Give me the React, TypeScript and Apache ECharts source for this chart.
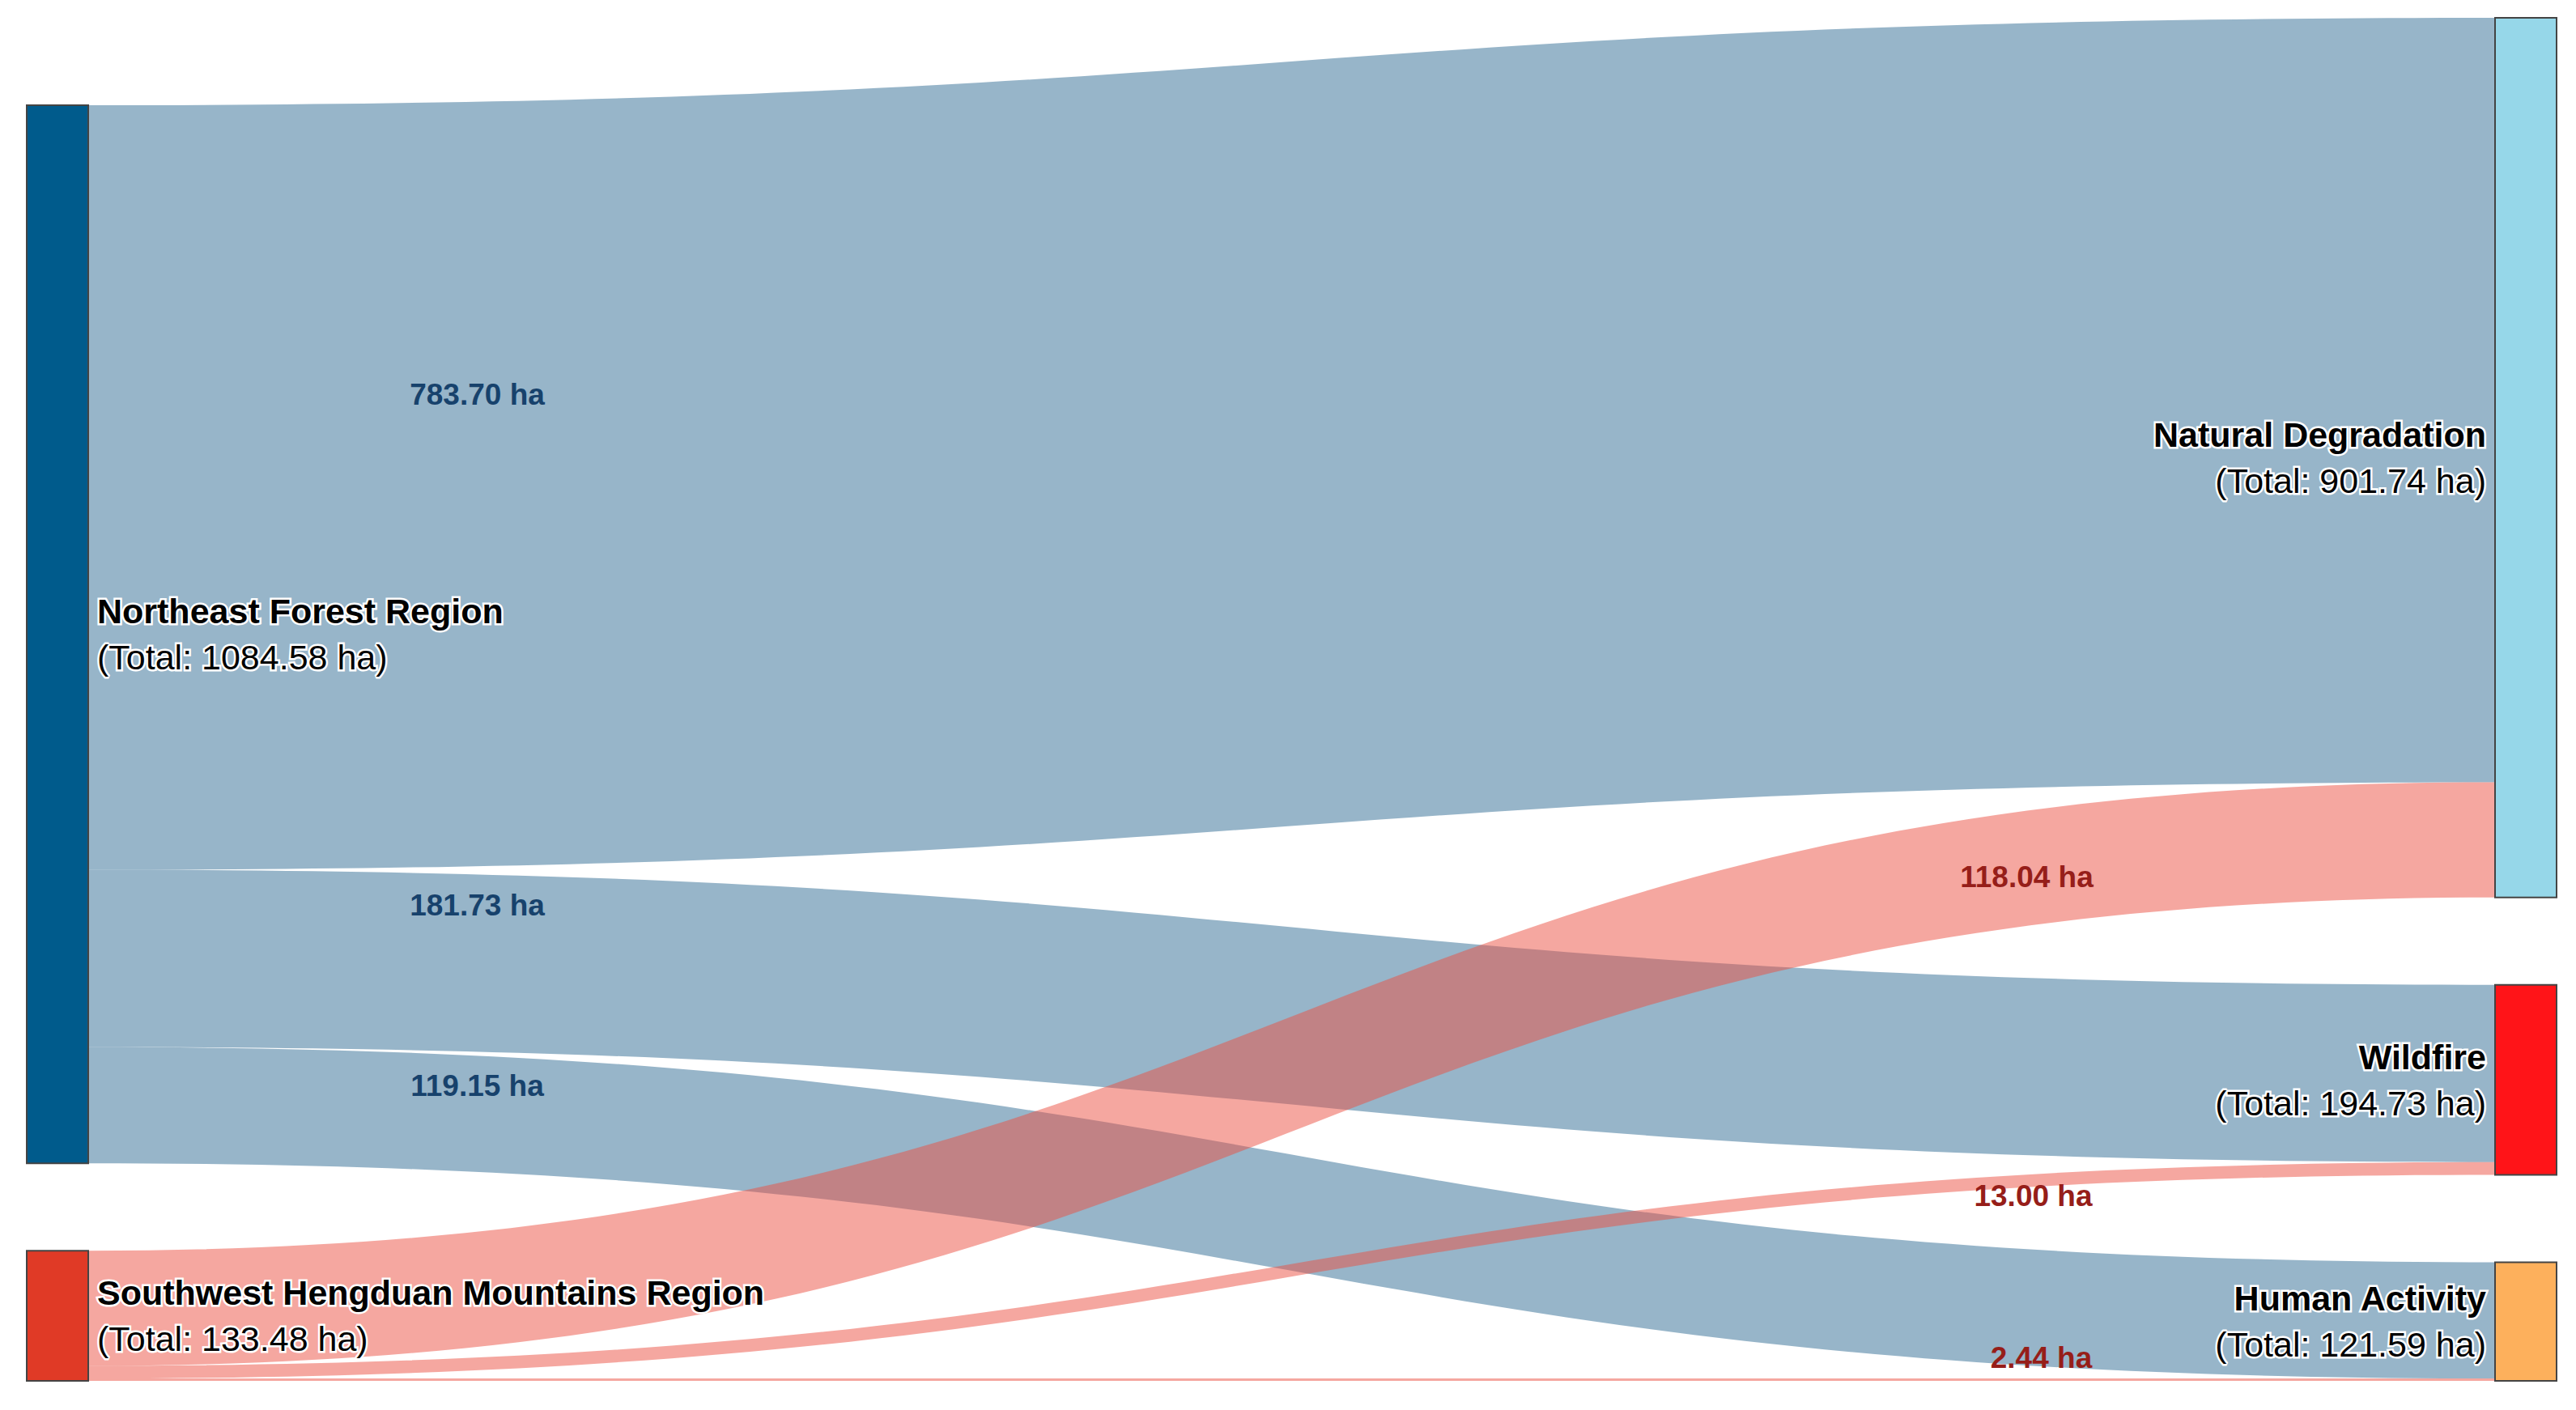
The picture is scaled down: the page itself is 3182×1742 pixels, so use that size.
import React, { useEffect, useRef } from "react";
import * as echarts from "echarts";

const nodeNames = [
  "Northeast Forest Region",
  "Southwest Hengduan Mountains Region",
  "Natural Degradation",
  "Wildfire",
  "Human Activity",
];
const nodeColors = ["#005B8C", "#E03A26", "#96D7E9", "#FF1418", "#FDB05C"];
const nodeLabelSide = ["right", "right", "left", "left", "left"];

const linkSources = [0, 0, 0, 1, 1, 1];
const linkTargets = [2, 3, 4, 2, 3, 4];
const linkValues = [783.7, 181.73, 119.15, 118.04, 13.0, 2.44];
const linkColors = [
  "rgb(47,107,147)",
  "rgb(47,107,147)",
  "rgb(47,107,147)",
  "rgb(235,79,65)",
  "rgb(235,79,65)",
  "rgb(235,79,65)",
];
const linkLabelColors = ["#17426C", "#17426C", "#17426C", "#961E19", "#961E19", "#961E19"];
const linkLabelOffsets = [
  [-1006, -61],
  [-1006, -137],
  [-1006, -157],
  [908, -243],
  [916, -92],
  [926, -27],
];

const FONT = "'Liberation Sans', Arial, Helvetica, sans-serif";

export default function App() {
  const ref = useRef<HTMLDivElement>(null);

  useEffect(() => {
    if (!ref.current) return;
    const chart = echarts.init(ref.current, undefined, { renderer: "svg" });

    const nodes = nodeNames.map((name, i) => ({
      name,
      itemStyle: { color: nodeColors[i], borderColor: "#444", borderWidth: 2 },
      label: { position: nodeLabelSide[i] },
    }));

    const links = linkValues.map((v, i) => ({
      source: nodeNames[linkSources[i]],
      target: nodeNames[linkTargets[i]],
      value: v,
      lineStyle: { color: linkColors[i], opacity: 0.5 },
      edgeLabel: {
        show: true,
        color: linkLabelColors[i],
        offset: linkLabelOffsets[i],
      },
    }));

    const halo = { textBorderColor: "#fff", textBorderWidth: 5 };

    chart.setOption({
      animation: false,
      backgroundColor: "#fff",
      series: [
        {
          type: "sankey",
          left: 25,
          top: 14,
          right: 16,
          bottom: 28,
          nodeWidth: 76,
          nodeGap: 108,
          draggable: false,
          emphasis: { disabled: true },
          lineStyle: { curveness: 0.5, opacity: 0.5 },
          label: {
            show: true,
            distance: 10,
            fontFamily: FONT,
            formatter: (p: any) =>
              `{b|${p.name}}\n{n|(Total: ${Number(p.value).toFixed(2)} ha)}`,
            rich: {
              b: { fontFamily: FONT, fontSize: 43, fontWeight: "bold", color: "#000", lineHeight: 57, ...halo },
              n: { fontFamily: FONT, fontSize: 43, color: "#000", lineHeight: 57, ...halo },
            },
          },
          edgeLabel: {
            show: true,
            fontFamily: FONT,
            fontSize: 37,
            fontWeight: "bold",
            formatter: (p: any) => `${Number(p.value).toFixed(2)} ha`,
          },
          data: nodes,
          links,
        },
      ],
    });

    return () => chart.dispose();
  }, []);

  return <div ref={ref} style={{ width: 3166, height: 1726 }} />;
}
